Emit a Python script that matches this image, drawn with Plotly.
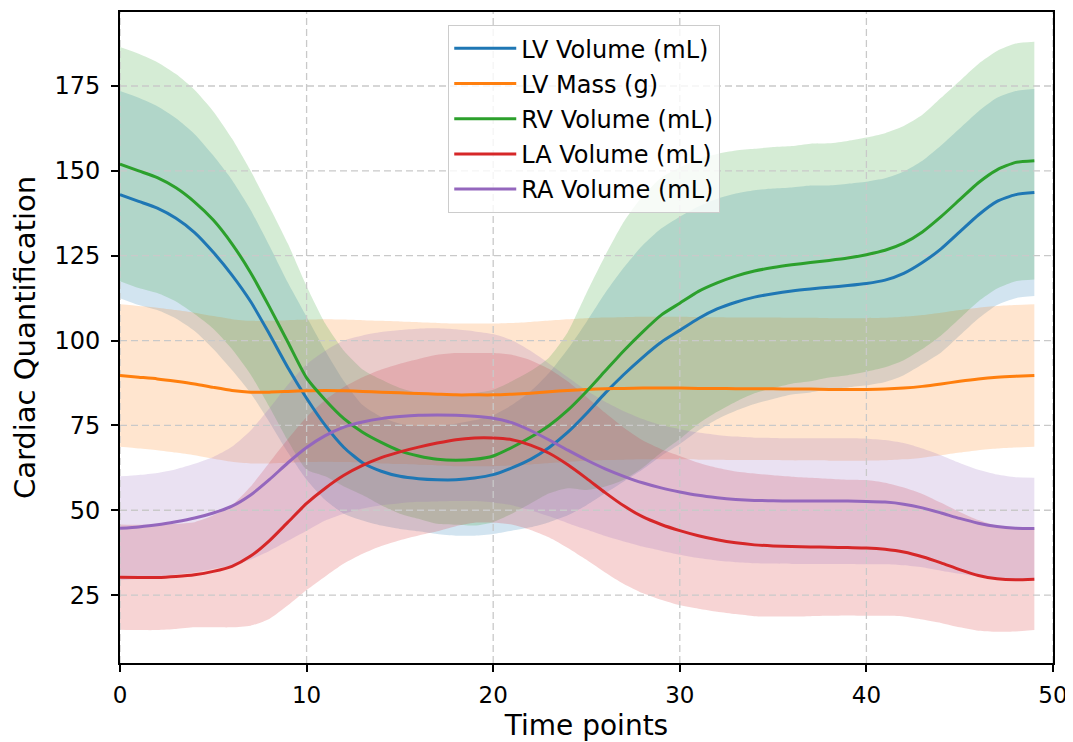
import plotly.graph_objects as go

time_points = list(range(50))

series_names = ["LV Volume (mL)", "LV Mass (g)", "RV Volume (mL)", "LA Volume (mL)", "RA Volume (mL)"]
series_colors = ["#1f77b4", "#ff7f0e", "#2ca02c", "#d62728", "#9467bd"]

lv_volume_mean = [143, 141, 139, 136, 131.8, 126, 119.3, 111.5, 102, 92, 83, 75, 68.5, 64, 61.5, 60, 59.3, 59, 59, 59.5,
                  60.5, 62.5, 65, 68.5, 73, 78.5, 84.5, 90, 95, 99.5, 103, 106.5, 109.3, 111.3, 112.8, 113.8, 114.6, 115.2, 115.7, 116.2,
                  116.8, 117.8, 119.8, 123, 127, 132, 137, 141, 143, 143.6]
lv_volume_std = [30.5, 30.5, 30, 29.5, 29, 28.5, 28, 27, 26, 25, 24, 22, 19.5, 17, 16, 15.5, 15.5, 16, 16.5, 17,
                 17.5, 18.5, 20, 22, 24.5, 27, 29.5, 31.5, 33, 33.5, 33.5, 33, 32.5, 32, 31.5, 31, 30.5, 30.5, 30, 30,
                 30, 30, 30, 30, 30.5, 30.5, 30.5, 30.5, 30.5, 30.5]

lv_mass_mean = [89.7, 89.2, 88.7, 88, 87.2, 86.2, 85.3, 84.8, 84.8, 85, 85.2, 85.3, 85.2, 85, 84.8, 84.6, 84.4, 84.2, 84, 84,
                84, 84.2, 84.5, 84.9, 85.3, 85.6, 85.8, 85.9, 86, 86, 86, 85.9, 85.9, 85.8, 85.8, 85.8, 85.7, 85.7, 85.6, 85.6,
                85.6, 85.7, 86, 86.5, 87.2, 88, 88.7, 89.2, 89.5, 89.7]
lv_mass_std = [21] * 50

rv_volume_mean = [152, 150, 148, 145, 140.8, 135.5, 128.5, 120, 110, 99.5, 89, 82.5, 77, 73, 70, 67.5, 66, 65, 64.7, 65,
                  66, 68.5, 71.5, 75, 79.5, 85, 91, 97, 102.5, 107.5, 111, 114.5, 117, 119, 120.5, 121.5, 122.3, 123, 123.6, 124.3,
                  125.3, 126.6, 128.7, 132, 136.5, 141.5, 146.5, 150.3, 152.5, 153]
rv_volume_std = [34.5, 34.5, 34, 33.5, 33, 32, 31, 30, 29.5, 29, 27, 22.5, 20, 18.5, 18.5, 18.5, 18.5, 19, 19, 19.5,
                 19.5, 19.5, 19.5, 20, 23, 29, 34, 38, 40, 40.5, 40, 39, 38, 37, 36, 35.5, 35, 35, 34.5, 34.5,
                 34.5, 34.5, 34.5, 34.5, 35, 35, 35, 35, 35, 35]

la_volume_mean = [30.3, 30.2, 30.2, 30.5, 31, 32, 33.5, 36.5, 41, 46.5, 52, 56.5, 60.3, 63.2, 65.5, 67.2, 68.6, 69.8, 70.8, 71.3,
                  71.3, 70.8, 69.2, 66.8, 63.4, 59.4, 55.2, 51.3, 48.1, 45.8, 44, 42.5, 41.3, 40.4, 39.8, 39.5, 39.3, 39.2, 39.1, 39,
                  38.9, 38.5, 37.7, 36.3, 34.5, 32.5, 30.8, 29.8, 29.5, 29.7]
la_volume_std = [15.5, 15.5, 15.5, 15.5, 15.5, 16.5, 18, 20.5, 23, 24.5, 25.5, 26, 26, 26, 26, 26, 26, 26, 25.5, 25,
                 25, 25, 25, 24.8, 24.5, 24, 23.5, 23, 22.5, 22.2, 22, 21.5, 21.2, 21, 21, 20.8, 20.6, 20.4, 20.2, 20,
                 20, 19.6, 19, 18.5, 17.7, 17, 16.3, 15.6, 15.2, 15]

ra_volume_mean = [44.7, 45.1, 45.7, 46.6, 47.7, 49.2, 51.2, 54.5, 59, 64, 68.5, 72, 74.5, 76, 77, 77.6, 78, 78.1, 78, 77.7,
                  77.1, 75.8, 73.5, 70.7, 67.7, 64.8, 62.2, 60, 58.1, 56.6, 55.4, 54.4, 53.7, 53.2, 52.9, 52.8, 52.7, 52.7, 52.7, 52.7,
                  52.6, 52.4, 51.8, 50.7, 49.2, 47.6, 46.2, 45.2, 44.7, 44.6]
ra_volume_std = [15.3, 15.3, 15.3, 15.5, 16, 16.5, 17.5, 19, 21, 23, 24.5, 25, 25.5, 25.5, 25.5, 25.5, 25.5, 25.5, 25.3, 25,
                 24.8, 24.3, 23.5, 22.5, 21.5, 20.5, 19.8, 19.2, 18.8, 18.5, 18.5, 18.5, 18.5, 18.5, 18.5, 18.5, 18.5, 18.5, 18.5, 18.5,
                 18.5, 18.3, 18, 17.5, 17, 16.3, 15.7, 15.3, 15, 15]

x_ticks = [0, 10, 20, 30, 40, 50]
y_ticks = [25, 50, 75, 100, 125, 150, 175]
x_range = [0, 50]
y_range = [5.0, 196.8]

means = [lv_volume_mean, lv_mass_mean, rv_volume_mean, la_volume_mean, ra_volume_mean]
stds = [lv_volume_std, lv_mass_std, rv_volume_std, la_volume_std, ra_volume_std]


def rgba(hex_color, a):
    h = hex_color.lstrip("#")
    r, g, b = int(h[0:2], 16), int(h[2:4], 16), int(h[4:6], 16)
    return f"rgba({r},{g},{b},{a})"


fig = go.Figure()

# Shaded bands (mean ± std), drawn first
for name, color, m, s in zip(series_names, series_colors, means, stds):
    lower = [mi - si for mi, si in zip(m, s)]
    upper = [mi + si for mi, si in zip(m, s)]
    fig.add_trace(go.Scatter(x=time_points, y=lower, mode="lines",
                             line=dict(width=0, color=rgba(color, 0), shape="spline", smoothing=0.6),
                             showlegend=False, hoverinfo="skip"))
    fig.add_trace(go.Scatter(x=time_points, y=upper, mode="lines",
                             line=dict(width=0, color=rgba(color, 0), shape="spline", smoothing=0.6),
                             fill="tonexty", fillcolor=rgba(color, 0.2), showlegend=False, hoverinfo="skip"))

# Dashed grid drawn above the bands but below the mean lines
grid_style = dict(color="#c9c9c9", width=1.3, dash="7px,4px")
for xv in x_ticks:
    fig.add_trace(go.Scatter(x=[xv, xv], y=y_range, mode="lines", line=grid_style, showlegend=False, hoverinfo="skip"))
for yv in y_ticks:
    fig.add_trace(go.Scatter(x=x_range, y=[yv, yv], mode="lines", line=grid_style, showlegend=False, hoverinfo="skip"))

# Mean lines
for name, color, m in zip(series_names, series_colors, means):
    fig.add_trace(go.Scatter(x=time_points, y=m, mode="lines", name=name, legendgroup=name,
                             line=dict(color=color, width=3, shape="spline", smoothing=0.6)))

font_family = "DejaVu Sans"
# The page body adds an 8px offset, so the figure is sized 8px smaller and margins trimmed accordingly
fig.update_layout(
    width=1065, height=734,
    margin=dict(l=112, r=20, t=4, b=79),
    paper_bgcolor="white", plot_bgcolor="white",
    font=dict(family=font_family, color="black"),
    legend=dict(x=0.3516, y=0.98, xanchor="left", yanchor="top",
                bgcolor="rgba(255,255,255,0.8)", bordercolor="#cccccc", borderwidth=1.2,
                font=dict(size=24, family=font_family, color="black"),
                traceorder="grouped", tracegroupgap=1, itemwidth=62),
    showlegend=True,
)
fig.update_xaxes(range=x_range, tickvals=x_ticks, showgrid=False, zeroline=False, automargin=False,
                 showline=True, linecolor="black", linewidth=1.6, mirror=True,
                 ticks="outside", ticklen=7, tickwidth=1.5, tickcolor="black", ticklabelstandoff=4,
                 tickfont=dict(size=23, family=font_family, color="black"),
                 title=dict(text="Time points", font=dict(size=28, family=font_family, color="black"), standoff=10))
fig.update_yaxes(range=y_range, tickvals=y_ticks, showgrid=False, zeroline=False, automargin=False,
                 showline=True, linecolor="black", linewidth=1.6, mirror=True,
                 ticks="outside", ticklen=7, tickwidth=1.5, tickcolor="black", ticklabelstandoff=6,
                 tickfont=dict(size=24, family=font_family, color="black"),
                 title=dict(text="Cardiac Quantification", font=dict(size=29, family=font_family, color="black"), standoff=14))

fig.write_html("out.html")
